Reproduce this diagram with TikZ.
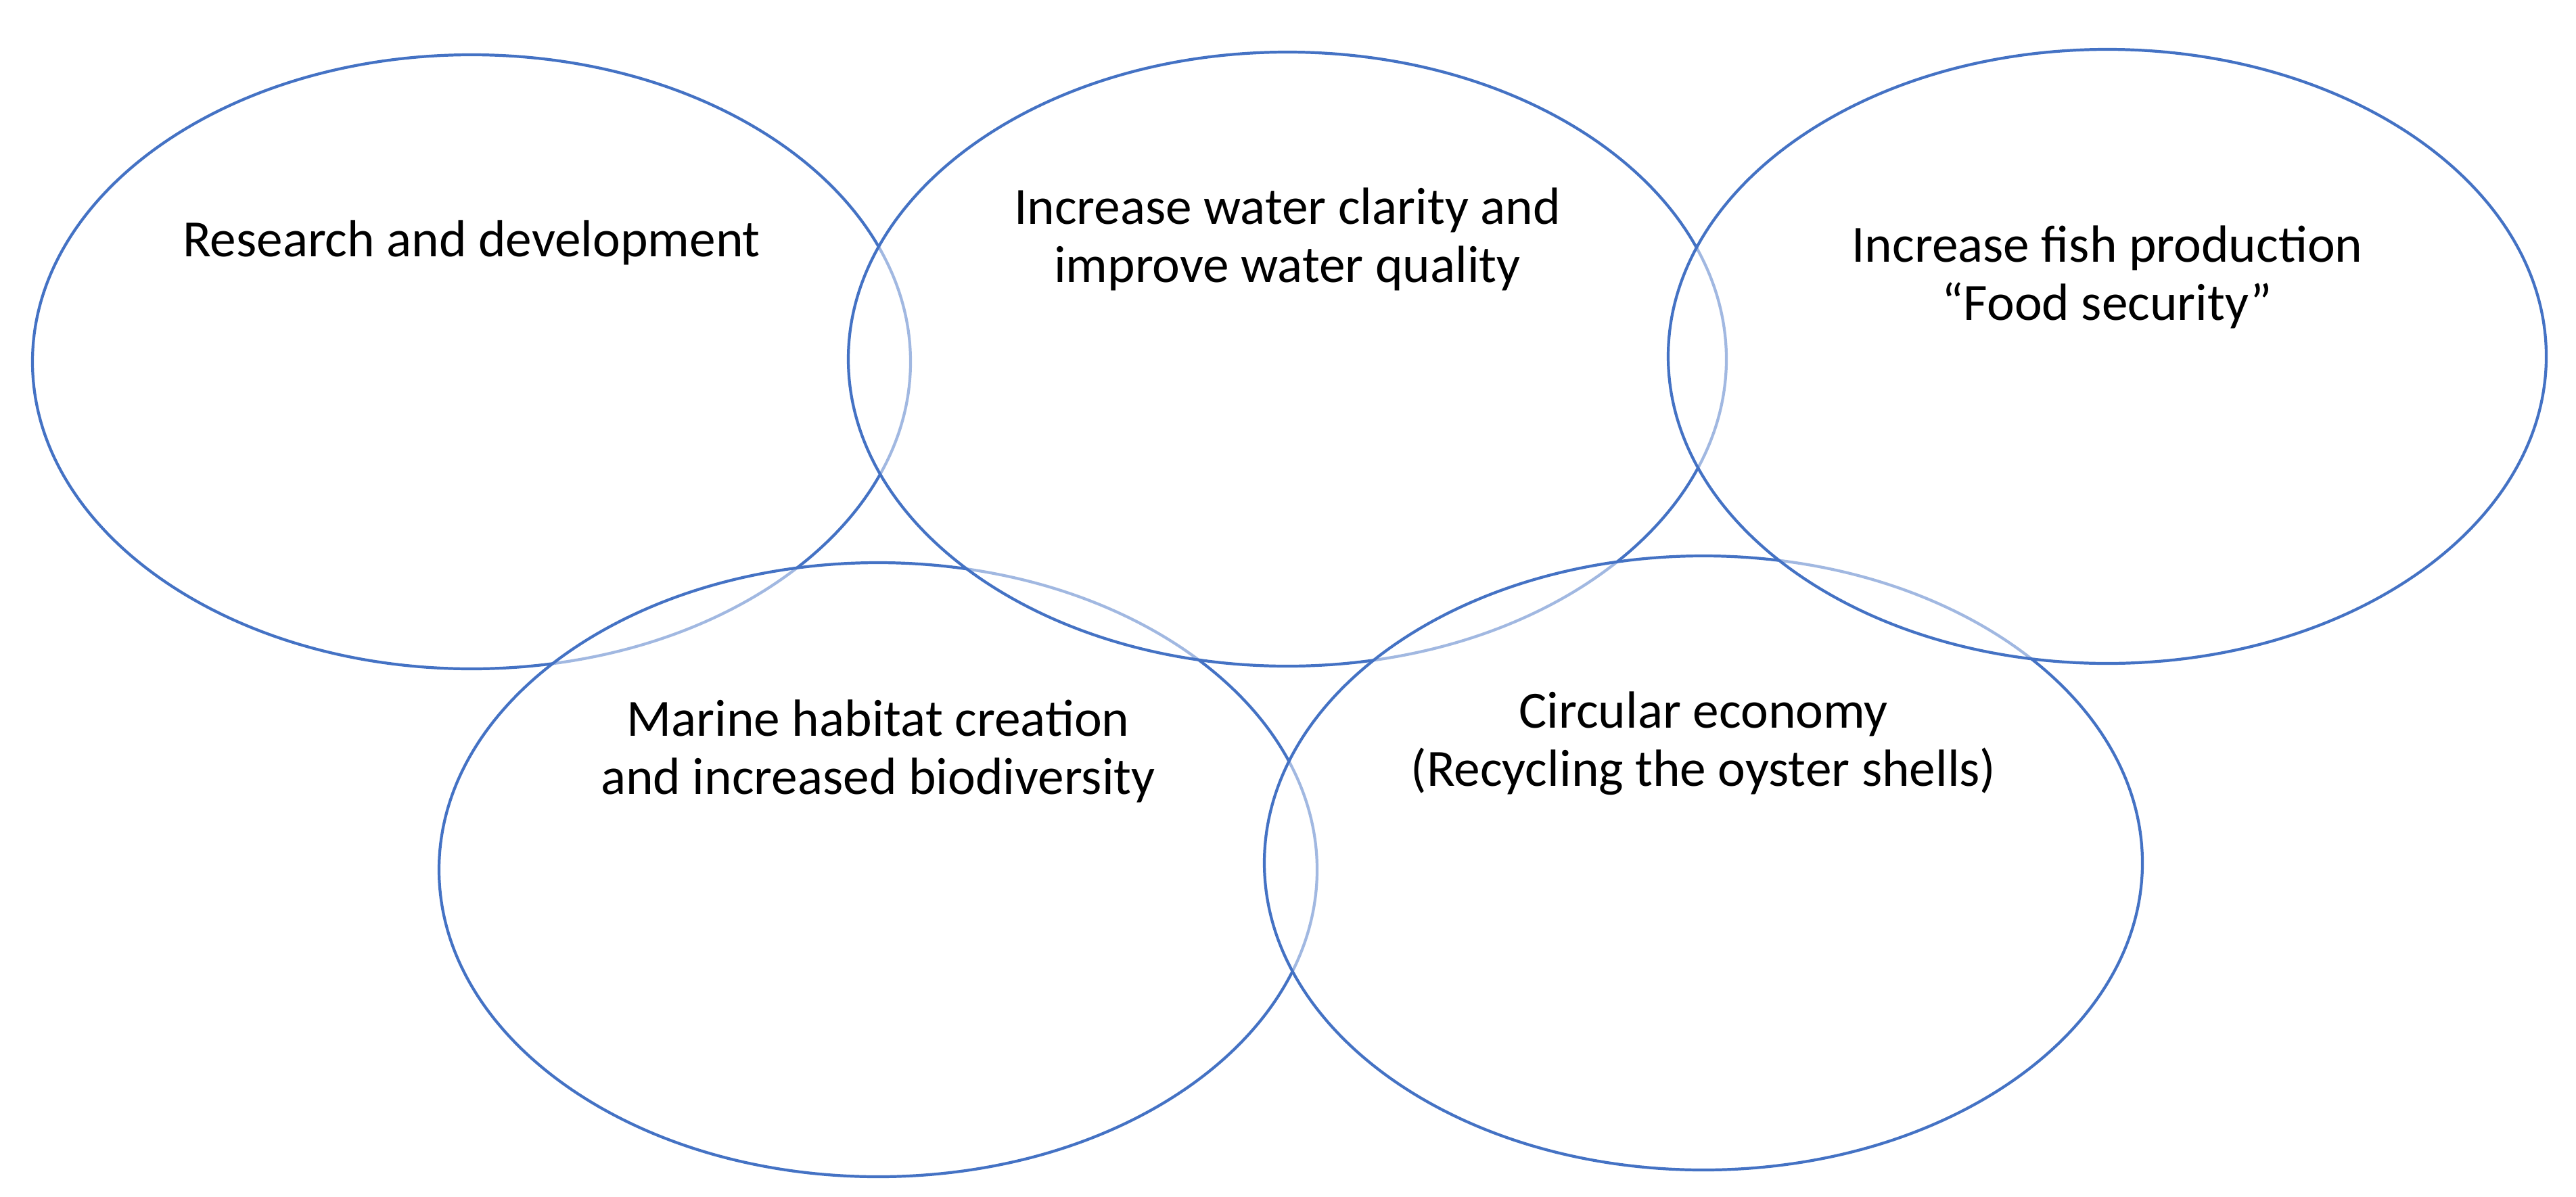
\documentclass[tikz,border=0pt]{standalone}
\usepackage{fontspec}
\setmainfont{Carlito}
\usetikzlibrary{shapes.geometric}
\definecolor{ringblue}{RGB}{68,114,196}
\begin{document}
\begin{tikzpicture}[x=1cm,y=1cm,
  ring/.style={ellipse, draw=ringblue, line width=1.2pt, fill=white, fill opacity=0.5, draw opacity=1,
    inner sep=0pt, outer sep=0pt, minimum width=12.98cm, minimum height=9.08cm},
  lbl/.style={align=center, font=\fontsize{22}{24.2}\selectfont, anchor=base, inner sep=0pt}]
\useasboundingbox (0,0) rectangle (38.08,-17.69);
\fill[white] (0,0) rectangle (38.08,-17.69);
% draw order matters: later ellipses wash out earlier lines
\node[ring] (e1) at (6.97,-5.35) {};
\node[ring] (e4) at (12.98,-12.86) {};
\node[ring] (e2) at (19.03,-5.31) {};
\node[ring] (e5) at (25.18,-12.76) {};
\node[ring] (e3) at (31.15,-5.27) {};
% labels (base anchor = baseline of the last line)
\node[lbl] (t1) at (6.97,-3.79) {Research and development};
\node[lbl] (t2) at (19.03,-4.17) {Increase water clarity and\\improve water quality};
\node[lbl] (t3) at (31.15,-4.73) {Increase fish production\\“Food security”};
\node[lbl] (t4) at (12.98,-11.74) {Marine habitat creation\\and increased biodiversity};
\node[lbl] (t5) at (25.18,-11.62) {Circular economy\\(Recycling the oyster shells)};
\end{tikzpicture}
\end{document}
